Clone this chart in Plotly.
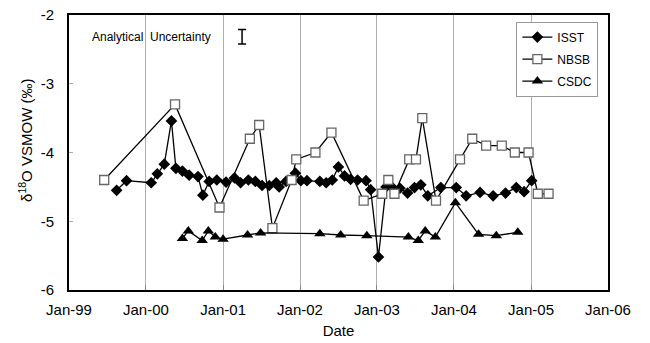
import plotly.graph_objects as go

isst_dates = ["1999-08-15", "1999-10-01", "2000-01-26", "2000-02-24", "2000-03-28", "2000-05-01",
              "2000-05-22", "2000-06-22", "2000-07-24", "2000-09-04", "2000-09-27", "2000-10-27",
              "2000-12-02", "2001-01-15", "2001-02-24", "2001-03-25", "2001-05-01", "2001-06-03",
              "2001-07-05", "2001-08-08", "2001-09-10", "2001-09-24", "2001-10-27", "2001-12-10",
              "2002-01-05", "2002-02-03", "2002-04-05", "2002-05-05", "2002-06-03", "2002-07-02",
              "2002-07-31", "2002-08-29", "2002-10-01", "2002-11-10", "2002-12-02", "2003-01-08",
              "2003-02-13", "2003-03-15", "2003-04-20", "2003-05-26", "2003-06-28", "2003-07-28",
              "2003-08-30", "2003-10-31", "2004-01-12", "2004-02-28", "2004-05-04", "2004-07-05",
              "2004-09-02", "2004-10-23", "2004-11-29", "2005-01-04"]
isst_values = [-4.55, -4.41, -4.44, -4.31, -4.17, -3.54,
               -4.23, -4.27, -4.33, -4.35, -4.62, -4.42,
               -4.40, -4.43, -4.37, -4.44, -4.40, -4.42,
               -4.48, -4.48, -4.44, -4.50, -4.42, -4.30,
               -4.41, -4.41, -4.42, -4.44, -4.40, -4.21,
               -4.34, -4.39, -4.40, -4.41, -4.54, -5.52,
               -4.50, -4.51, -4.52, -4.59, -4.51, -4.47,
               -4.63, -4.51, -4.51, -4.63, -4.58, -4.63,
               -4.59, -4.51, -4.57, -4.41]

nbsb_dates = ["1999-06-17", "2000-05-18", "2000-12-15", "2001-05-08", "2001-06-21", "2001-08-23",
              "2001-11-22", "2001-12-14", "2002-03-15", "2002-05-30", "2002-10-30", "2003-01-26",
              "2003-02-24", "2003-03-25", "2003-06-03", "2003-07-05", "2003-08-04", "2003-10-08",
              "2004-01-30", "2004-03-28", "2004-06-02", "2004-08-15", "2004-10-16", "2004-12-20",
              "2005-02-02", "2005-03-25"]
nbsb_values = [-4.40, -3.30, -4.80, -3.80, -3.60, -5.10,
               -4.40, -4.10, -4.00, -3.71, -4.70, -4.60,
               -4.40, -4.60, -4.10, -4.10, -3.50, -4.70,
               -4.10, -3.80, -3.90, -3.90, -4.00, -4.00,
               -4.60, -4.60]

csdc_dates = ["2000-06-22", "2000-07-20", "2000-09-24", "2000-10-23", "2000-11-25", "2001-01-01",
              "2001-04-27", "2001-06-28", "2002-04-05", "2002-07-13", "2002-11-14", "2003-05-30",
              "2003-07-16", "2003-08-18", "2003-10-05", "2004-01-08", "2004-04-27", "2004-07-20",
              "2004-10-30"]
csdc_values = [-5.25, -5.14, -5.28, -5.14, -5.23, -5.26,
               -5.20, -5.17, -5.18, -5.20, -5.21, -5.23,
               -5.28, -5.14, -5.23, -4.73, -5.19, -5.21,
               -5.16]

uncert_date = ["2001-04-01"]
uncert_value = [-2.315]
uncert_err = [0.105]

tick_vals = ["1999-01-01", "2000-01-01", "2001-01-01", "2002-01-01",
             "2003-01-01", "2004-01-01", "2005-01-01", "2006-01-01"]
tick_text = ["Jan-99", "Jan-00", "Jan-01", "Jan-02", "Jan-03", "Jan-04", "Jan-05", "Jan-06"]
y_ticks = [-6, -5, -4, -3, -2]
y_tick_text = ["-6", "-5", "-4", "-3", "-2"]

FONT = "Liberation Sans, Arial, sans-serif"

fig = go.Figure()
fig.add_trace(go.Scatter(
    x=isst_dates, y=isst_values, name="ISST", mode="lines+markers",
    line=dict(color="black", width=1.3),
    marker=dict(symbol="diamond", size=9, color="black"),
    legendgroup="a"))
fig.add_trace(go.Scatter(
    x=nbsb_dates, y=nbsb_values, name="NBSB", mode="lines+markers",
    line=dict(color="black", width=1.3),
    marker=dict(symbol="square", size=9, color="white", line=dict(color="#666666", width=1.3)),
    legendgroup="b"))
fig.add_trace(go.Scatter(
    x=csdc_dates, y=csdc_values, name="CSDC", mode="lines+markers",
    line=dict(color="black", width=1.3),
    marker=dict(symbol="triangle-up", size=10, color="black"),
    legendgroup="c"))
fig.add_trace(go.Scatter(
    x=uncert_date, y=uncert_value, mode="markers", showlegend=False,
    marker=dict(size=1, color="rgba(0,0,0,0)"),
    error_y=dict(type="data", array=uncert_err, visible=True, color="black", thickness=1.5, width=4),
    hoverinfo="skip"))

fig.add_annotation(
    x="1999-04-10", y=-2.315, xref="x", yref="y", text="Analytical  Uncertainty",
    showarrow=False, xanchor="left", yanchor="middle",
    font=dict(family=FONT, size=12, color="black"))

fig.add_annotation(
    x=-0.082, y=0.545, xref="paper", yref="paper", text="δ<sup>18</sup>O VSMOW (‰)",
    showarrow=False, textangle=-90, xanchor="center", yanchor="middle",
    font=dict(family=FONT, size=15, color="black"))

fig.update_layout(
    width=650, height=343,
    margin=dict(l=69, r=42, t=15, b=53),
    paper_bgcolor="white", plot_bgcolor="white",
    font=dict(family=FONT, size=15, color="black"),
    legend=dict(
        x=0.83, y=0.976, xanchor="left", yanchor="top",
        bgcolor="white", bordercolor="#999999", borderwidth=1,
        font=dict(family=FONT, size=12, color="black"),
        tracegroupgap=3, itemwidth=30),
    xaxis=dict(
        type="date", range=["1999-01-01", "2006-01-01"],
        tickvals=tick_vals, ticktext=tick_text,
        showgrid=True, gridcolor="#b0b0b0", gridwidth=1,
        ticks="inside", ticklen=5, tickcolor="#888888",
        showline=True, linecolor="black", linewidth=2, mirror=True,
        ticklabelstandoff=5, automargin=False,
        title=dict(text="Date", standoff=8, font=dict(family=FONT, size=15)),
        zeroline=False),
    yaxis=dict(
        range=[-6, -2], tickvals=y_ticks, ticktext=y_tick_text,
        showgrid=False, ticks="inside", ticklen=4, tickcolor="#aaaaaa",
        showline=True, linecolor="black", linewidth=2, mirror=True,
        ticklabelstandoff=10, zeroline=False, automargin=False),
)

fig.write_html("out.html")
